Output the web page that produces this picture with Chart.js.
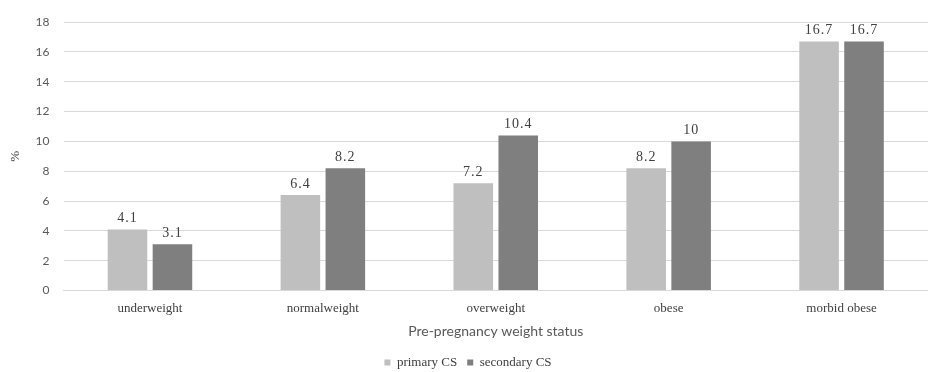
<!DOCTYPE html>
<html>
<head>
<meta charset="utf-8">
<script src="https://cdn.jsdelivr.net/npm/chart.js@4/dist/chart.umd.min.js"></script>
<style>
  html, body { margin: 0; padding: 0; background: #fff; }
  #wrap { width: 928px; height: 372px; }
</style>
</head>
<body>
<div id="wrap"><canvas id="cs"></canvas></div>
<script>
const categories = ['underweight', 'normalweight', 'overweight', 'obese', 'morbid obese'];
const primaryCS = [4.1, 6.4, 7.2, 8.2, 16.7];
const secondaryCS = [3.1, 8.2, 10.4, 10, 16.7];
const seriesNames = ['primary CS', 'secondary CS'];

// etiquetas encima de cada barra
const barLabels = {
    id: 'barLabels',
    afterDatasetsDraw(chart) {
        const ctx = chart.ctx;
        ctx.save();
        ctx.font = '14px "Liberation Serif", serif';
        ctx.letterSpacing = '1px';
        ctx.fillStyle = '#404040';
        ctx.textAlign = 'center';
        ctx.textBaseline = 'bottom';
        chart.data.datasets.forEach((ds, i) => {
            chart.getDatasetMeta(i).data.forEach((bar, j) => {
                ctx.fillText(String(ds.data[j]), bar.x, bar.y - 4);
            });
        });
        ctx.restore();
    }
};

const ctx = document.getElementById('cs').getContext('2d');
new Chart(ctx, {
    type: 'bar',
    data: {
        labels: categories,
        datasets: [{
            label: seriesNames[0],
            data: primaryCS,
            backgroundColor: '#bfbfbf',
            categoryPercentage: 0.52,
            barPercentage: 0.88
        }, {
            label: seriesNames[1],
            data: secondaryCS,
            backgroundColor: '#7f7f7f',
            categoryPercentage: 0.52,
            barPercentage: 0.88
        }]
    },
    options: {
        responsive: true,
        maintainAspectRatio: false,
        animation: false,
        layout: { padding: { top: 22, right: 0, left: 8, bottom: -7 } },
        scales: {
            y: {
                min: 0,
                max: 18,
                ticks: {
                    stepSize: 2,
                    color: '#595959',
                    font: { family: 'Lato', size: 12 },
                    padding: 14
                },
                grid: { color: '#d9d9d9', drawTicks: false },
                border: { display: false },
                title: {
                    display: true,
                    text: '%',
                    color: '#404040',
                    font: { family: '"Liberation Serif"', size: 13 },
                    padding: { top: 0, bottom: -2 }
                }
            },
            x: {
                ticks: {
                    color: '#404040',
                    font: { family: '"Liberation Serif"', size: 13 },
                    padding: 10
                },
                grid: { display: false, drawTicks: false },
                border: { color: '#d9d9d9' },
                title: {
                    display: true,
                    text: 'Pre-pregnancy weight status',
                    color: '#595959',
                    font: { family: 'Lato', size: 14 },
                    padding: { top: -3, bottom: 6 }
                }
            }
        },
        plugins: {
            legend: {
                position: 'bottom',
                labels: {
                    boxWidth: 6,
                    boxHeight: 6,
                    color: '#404040',
                    font: { family: '"Liberation Serif"', size: 13 },
                    padding: 10
                }
            },
            tooltip: { enabled: false }
        }
    },
    plugins: [barLabels]
});
</script>
</body>
</html>
